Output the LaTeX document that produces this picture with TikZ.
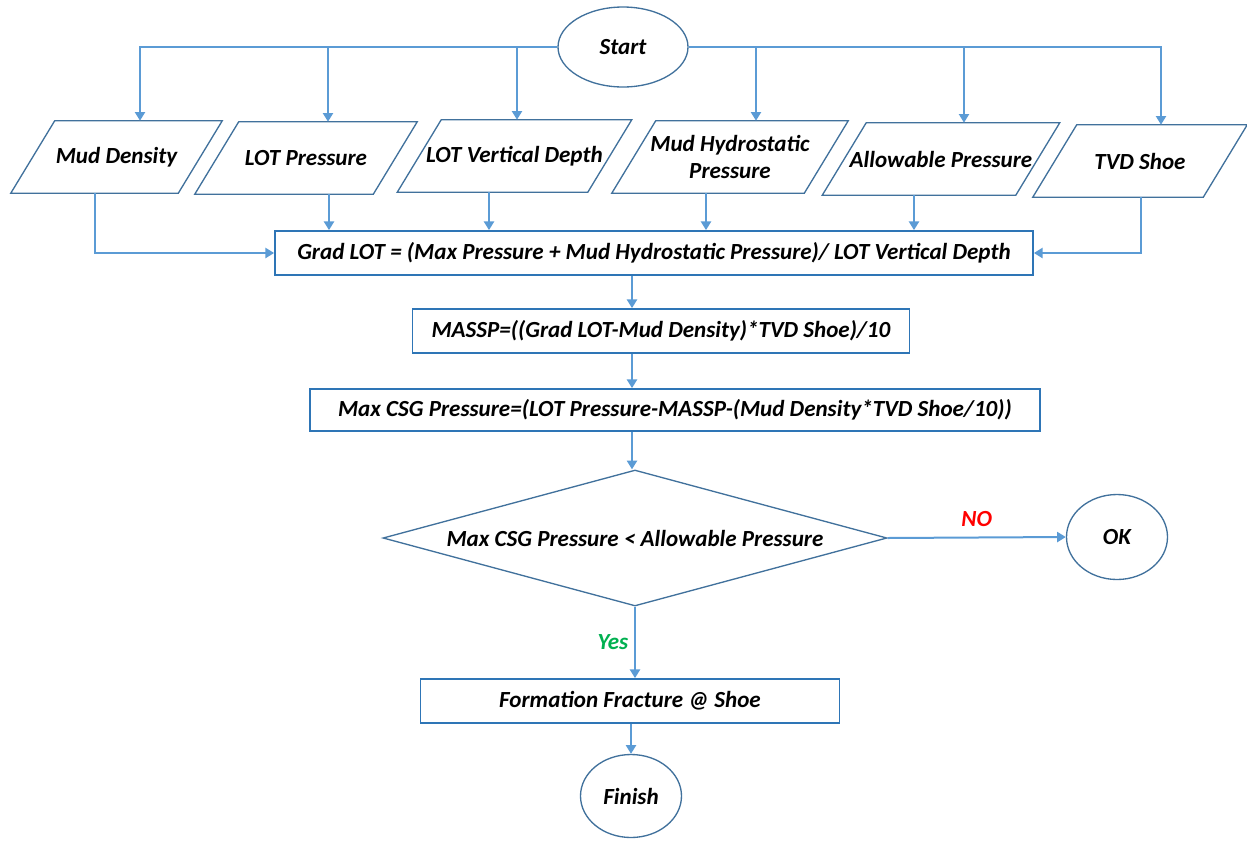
\documentclass[tikz,border=0pt]{standalone}
\usepackage{fontspec}
\setmainfont{Carlito}
\usepackage{xcolor}
\usepackage{tikz}
\usetikzlibrary{shapes.geometric}
\usetikzlibrary{arrows.meta}
\usetikzlibrary{calc}

\definecolor{flowblue}{HTML}{5B9BD5}
\definecolor{lineblue}{HTML}{41719C}
\definecolor{boxblue}{HTML}{2E75B6}
\definecolor{nored}{HTML}{FF0000}
\definecolor{yesgreen}{HTML}{00B050}

\tikzset{
	every node/.style={font=\fontsize{17.3}{20}\selectfont\bfseries\itshape},
	flow/.style={draw=flowblue,line width=1.5pt,-{Triangle[width=7.5pt,length=6.5pt]}},
	terminal/.style={ellipse,draw=lineblue,line width=1pt,inner sep=0pt},
	inputbox/.style={rectangle,minimum height=54pt,inner sep=0pt,align=center},
	calcbox/.style={rectangle,draw=boxblue,line width=1.3pt,minimum height=33pt},
	decision/.style={diamond,draw=lineblue,line width=1pt,aspect=3.7,inner sep=0pt,
		minimum width=378pt,minimum height=102pt}
}

\begin{document}
\begin{tikzpicture}[x=0.75pt,y=-0.75pt]%[scale=1.0,transform shape]
	\useasboundingbox (0,0) rectangle (1247,840);
	\node (start)	[terminal,minimum width=97.5pt,minimum height=60pt]	at (623,47)	{Start};
	% inputs
	\node (md)		[inputbox,minimum width=125.25pt]	at (116.5,157)	{Mud Density};
	\node (lp)		[inputbox,minimum width=133.5pt]	at (306,158)	{LOT Pressure};
	\node (lvd)		[inputbox,minimum width=142.5pt]	at (514.5,156)	{LOT Vertical Depth};
	\node (mhp)		[inputbox,minimum width=144pt]		at (730,157)	{Mud Hydrostatic\\Pressure};
	\node (ap)		[inputbox,minimum width=144.75pt]	at (941,159)	{Allowable Pressure};
	\node (tvd)		[inputbox,minimum width=127.5pt]	at (1140,161)	{TVD Shoe};
	\foreach \n in {md,lp,lvd,mhp,ap,tvd}
		\draw[lineblue,line width=1pt] ($(\n.north west)+(22,0)$) -- ($(\n.north east)+(22,0)$)
			-- ($(\n.south east)+(-22,0)$) -- ($(\n.south west)+(-22,0)$) -- cycle;
	% calculations
	\node (grad)	[calcbox,minimum width=568.5pt]		at (654,253)	{Grad LOT = (Max Pressure + Mud Hydrostatic Pressure)/ LOT Vertical Depth};
	\node (massp)	[calcbox,minimum width=372.75pt]	at (661,331)	{MASSP=((Grad LOT-Mud Density)*TVD Shoe)/10};
	\node (maxcsg)	[calcbox,minimum width=547.5pt,minimum height=31.5pt]	at (675,410)	{Max CSG Pressure=(LOT Pressure-MASSP-(Mud Density*TVD Shoe/10))};
	\node (test)	[decision]	at (635,538)	{Max CSG Pressure < Allowable Pressure};
	\node (ok)		[terminal,minimum width=75.75pt,minimum height=63.75pt]	at (1117,537)	{OK};
	\node (frac)	[calcbox,minimum width=314.25pt]	at (630,701)	{Formation Fracture @ Shoe};
	\node (finish)	[terminal,minimum width=75.75pt,minimum height=62.25pt]	at (631,796)	{Finish};

	\coordinate (spine) at (632,0);

	% start to inputs
	\draw[flow] (start.west) -| ($(md.north)+(23.5,0)$);
	\draw[flow] (start.west) -| ($(lp.north)+(22,0)$);
	\draw[flow] (start.west) -| ($(lvd.north)+(2.5,0)$);
	\draw[flow] (start.east) -| ($(mhp.north)+(26,0)$);
	\draw[flow] (start.east) -| ($(ap.north)+(23,0)$);
	\draw[flow] (start.east) -| ($(tvd.north)+(21,0)$);

	% inputs to grad LOT
	\coordinate (lp out) at ($(lp.south)+(23,0)$);
	\coordinate (lvd out) at ($(lvd.south)+(-25.5,0)$);
	\coordinate (mhp out) at ($(mhp.south)+(-24,0)$);
	\coordinate (ap out) at ($(ap.south)+(-27,0)$);
	\draw[flow] ($(md.south)+(-21.5,0)$) |- (grad.west);
	\draw[flow] (lp out) -- (lp out |- grad.north);
	\draw[flow] (lvd out) -- (lvd out |- grad.north);
	\draw[flow] (mhp out) -- (mhp out |- grad.north);
	\draw[flow] (ap out) -- (ap out |- grad.north);
	\draw[flow] ($(tvd.south)+(1,0)$) |- (grad.east);

	% main line
	\draw[flow] (grad.south -| spine) -- (massp.north -| spine);
	\draw[flow] (massp.south -| spine) -- (maxcsg.north -| spine);
	\draw[flow] (maxcsg.south -| spine) -- (test.north -| spine);
	\draw[flow] (test.east) -- (ok.west)
		node[midway,above=4pt,text=nored] {NO};
	\draw[flow] (test.south) -- (frac.north -| test.south)
		node[midway,left=1pt,text=yesgreen] {Yes};
	\draw[flow] (frac.south -| finish.north) -- (finish.north);
\end{tikzpicture}
\end{document}
